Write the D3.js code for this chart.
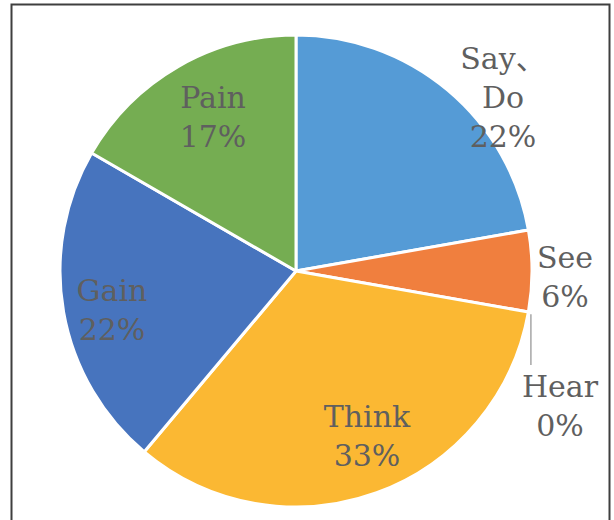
<!DOCTYPE html>
<html>
<head>
<meta charset="utf-8">
<script src="https://cdn.jsdelivr.net/npm/d3@7"></script>
<style>
  html, body { margin: 0; padding: 0; background: #fff; }
  svg { display: block; }
</style>
</head>
<body>
<script>
// Empathy-map answers counted per quadrant
const categories = ["Say\u3001\nDo", "See", "Hear", "Think", "Gain", "Pain"];
const counts = [4, 1, 0, 6, 4, 3];

// Slice fills, in category order
const colors = ["#559BD6", "#F07F3E", "#A5A5A5", "#FBB833", "#4774BE", "#75AD52"];

// Label anchors (centre of each text block, relative to the pie centre)
const labelLayout = [
  { dx: 207, dy: -174 },
  { dx: 269, dy: 5 },
  { dx: 264, dy: 134 },
  { dx: 71, dy: 164 },
  { dx: -184, dy: 38 },
  { dx: -83, dy: -155 }
];

const W = 614, H = 520;
const cx = 296, cy = 271, R = 236;
const lineH = 39;

const svg = d3.select("body").append("svg")
  .attr("width", W).attr("height", H);

// chart frame
svg.append("rect")
  .attr("x", 11.5).attr("y", 4.5)
  .attr("width", 598).attr("height", 540)
  .attr("fill", "#fff")
  .attr("stroke", "#3f3f3f")
  .attr("stroke-width", 2);

const total = d3.sum(counts);
const rows = categories.map((c, i) => ({ name: c, value: counts[i], color: colors[i], layout: labelLayout[i] }));

const pie = d3.pie().sort(null).value(d => d.value);
const arcs = pie(rows);
const arc = d3.arc().innerRadius(0).outerRadius(R);

const g = svg.append("g").attr("transform", `translate(${cx},${cy})`);

g.selectAll("path.slice")
  .data(arcs.filter(a => a.data.value > 0))
  .join("path")
  .attr("class", "slice")
  .attr("d", arc)
  .attr("fill", d => d.data.color)
  .attr("stroke", "#fff")
  .attr("stroke-width", 3)
  .attr("stroke-linejoin", "round");

// leader line for the empty slice
arcs.filter(a => a.data.value === 0).forEach(a => {
  const ang = a.startAngle;
  const x0 = Math.sin(ang) * (R + 1);
  const y0 = -Math.cos(ang) * (R + 1);
  g.append("line")
    .attr("x1", x0 + 1.5).attr("y1", y0 + 2)
    .attr("x2", x0 + 1.5).attr("y2", a.data.layout.dy - 40)
    .attr("stroke", "#A6A6A6")
    .attr("stroke-width", 1.5);
});

// data labels: category name(s) and share of total
const fmt = v => Math.round(v / total * 100) + "%";
arcs.forEach(a => {
  const lines = a.data.name.split("\n").concat([fmt(a.data.value)]);
  const n = lines.length;
  const t = g.append("text")
    .attr("text-anchor", "middle")
    .attr("font-family", "'DejaVu Serif', 'Noto Sans CJK JP', serif")
    .attr("font-size", 30)
    .attr("fill", "#5f5f5f");
  lines.forEach((s, k) => {
    t.append("tspan")
      .attr("x", a.data.layout.dx)
      .attr("y", a.data.layout.dy + (k - (n - 1) / 2) * lineH + 11)
      .text(s);
  });
});
</script>
</body>
</html>
